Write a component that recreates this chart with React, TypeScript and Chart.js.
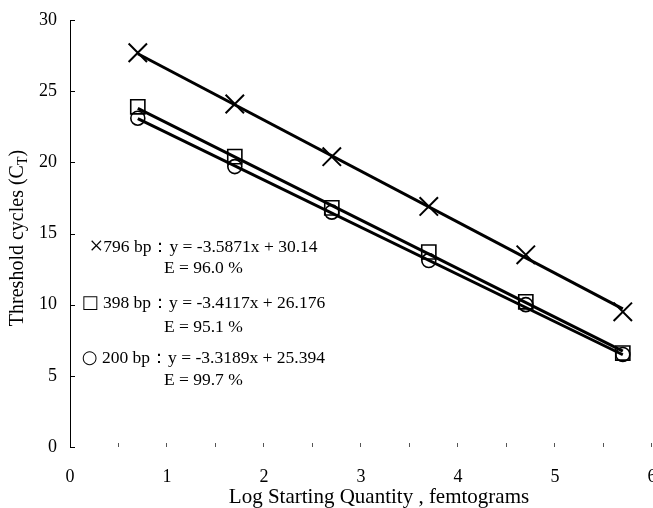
import React, { useEffect, useRef } from "react";
import { Chart, registerables } from "chart.js";

Chart.register(...registerables);

const logQuantity = [0.699, 1.699, 2.699, 3.699, 4.699, 5.699];
const ct796 = [27.7, 24.1, 20.4, 16.9, 13.5, 9.5];
const ct398 = [23.9, 20.4, 16.8, 13.7, 10.2, 6.6];
const ct200 = [23.1, 19.7, 16.5, 13.1, 10.0, 6.5];

const trendX = [0.699, 5.699];
const trend796 = [27.63, 9.7];
const trend398 = [23.79, 6.73];
const trend200 = [23.07, 6.48];

const yTicks = [0, 5, 10, 15, 20, 25, 30];
const xMinorTicks = [0.5, 1, 1.5, 2, 2.5, 3, 3.5, 4, 4.5, 5, 5.5, 6];

const annotations = [
  { symbol: "×", text: "796 bp：y = -3.5871x + 30.14", y: 14.05 },
  { symbol: "", text: "E = 96.0 %", y: 12.58 },
  { symbol: "□", text: " 398 bp：y = -3.4117x + 26.176", y: 10.1 },
  { symbol: "", text: "E = 95.1 %", y: 8.43 },
  { symbol: "○", text: " 200 bp：y = -3.3189x + 25.394", y: 6.25 },
  { symbol: "", text: "E = 99.7 %", y: 4.71 },
];

const SERIF = "'Liberation Serif', 'Times New Roman', serif";

const toPts = (xs: number[], ys: number[]) => xs.map((x, i) => ({ x, y: ys[i] }));

const decorPlugin = {
  id: "decor",
  afterDraw(chart: any) {
    const ctx = chart.ctx;
    const xs = chart.scales.x;
    const ys = chart.scales.y;
    const area = chart.chartArea;
    ctx.save();
    // y tick marks (inward)
    ctx.strokeStyle = "#000";
    ctx.lineWidth = 1;
    yTicks.forEach((v) => {
      const py = Math.round(ys.getPixelForValue(v)) + 0.5;
      ctx.beginPath();
      ctx.moveTo(area.left, py);
      ctx.lineTo(area.left + 5, py);
      ctx.stroke();
    });
    // x tick marks
    ctx.strokeStyle = "#555";
    xMinorTicks.forEach((v) => {
      const px = Math.round(xs.getPixelForValue(v)) - 0.5;
      ctx.beginPath();
      ctx.moveTo(px, area.bottom - 4);
      ctx.lineTo(px, area.bottom);
      ctx.stroke();
    });
    // annotations
    ctx.fillStyle = "#000";
    ctx.textBaseline = "middle";
    const cx = xs.getPixelForValue(1.375);
    annotations.forEach((a) => {
      const py = ys.getPixelForValue(a.y);
      ctx.font = `17.5px ${SERIF}`;
      const tw = ctx.measureText(a.text).width;
      let sw = 0;
      if (a.symbol) {
        ctx.font = a.symbol === "×" ? `25px ${SERIF}` : `18px 'DejaVu Sans'`;
        sw = ctx.measureText(a.symbol).width;
      }
      const start = cx - (tw + sw) / 2;
      ctx.textAlign = "left";
      if (a.symbol) {
        ctx.fillText(a.symbol, start, py);
      }
      ctx.font = `17.5px ${SERIF}`;
      ctx.fillText(a.text, start + sw, py);
    });
    // x title
    ctx.font = `21px ${SERIF}`;
    ctx.textAlign = "center";
    ctx.fillText("Log Starting Quantity , femtograms", 379, 497);
    // y title with subscript
    ctx.translate(18, 238);
    ctx.rotate(-Math.PI / 2);
    ctx.font = `20px ${SERIF}`;
    const p1 = "Threshold cycles (C";
    const p3 = ")";
    const w1 = ctx.measureText(p1).width;
    const w3 = ctx.measureText(p3).width;
    ctx.font = `14px ${SERIF}`;
    const w2 = ctx.measureText("T").width;
    const x0 = -(w1 + w2 + w3) / 2;
    ctx.textAlign = "left";
    ctx.font = `20px ${SERIF}`;
    ctx.fillText(p1, x0, 0);
    ctx.font = `14px ${SERIF}`;
    ctx.fillText("T", x0 + w1, 5);
    ctx.font = `20px ${SERIF}`;
    ctx.fillText(p3, x0 + w1 + w2, 0);
    ctx.restore();
  },
};

export default function App() {
  const ref = useRef<HTMLCanvasElement | null>(null);
  useEffect(() => {
    document.body.style.margin = "0";
    if (!ref.current) return;
    const lineDs = (ys: number[]) => ({
      data: toPts(trendX, ys),
      showLine: true,
      borderColor: "#000",
      borderWidth: 3,
      pointRadius: 0,
      fill: false,
      clip: false,
    });
    const markDs = (ys: number[], style: string, r: number, bw: number) => ({
      data: toPts(logQuantity, ys),
      showLine: false,
      pointStyle: style,
      pointRadius: r,
      pointBorderColor: "#000",
      pointBackgroundColor: "rgba(0,0,0,0)",
      pointBorderWidth: bw,
      borderColor: "#000",
      backgroundColor: "rgba(0,0,0,0)",
      clip: false,
    });
    const chart = new Chart(ref.current, {
      type: "scatter",
      data: {
        datasets: [
          lineDs(trend796),
          lineDs(trend398),
          lineDs(trend200),
          markDs(ct796, "crossRot", 13, 2),
          markDs(ct398, "rect", 10, 1.6),
          markDs(ct200, "circle", 7, 1.6),
        ] as any,
      },
      options: {
        animation: false,
        responsive: false,
        maintainAspectRatio: false,
        layout: { autoPadding: false, padding: { top: 20, right: 1, left: 0, bottom: 0 } },
        plugins: { legend: { display: false }, tooltip: { enabled: false } },
        scales: {
          x: {
            type: "linear",
            min: 0,
            max: 6,
            afterFit: (s: any) => {
              s.height = 61;
              s.paddingLeft = 0;
              s.paddingRight = 0;
            },
            ticks: {
              stepSize: 1,
              color: "#000",
              padding: 19,
              maxRotation: 0,
              font: { family: SERIF, size: 18 },
            },
            grid: { display: false, drawTicks: false },
            border: { display: false },
          },
          y: {
            type: "linear",
            min: 0,
            max: 30,
            afterFit: (s: any) => {
              s.width = 70;
              s.paddingTop = 0;
              s.paddingBottom = 0;
            },
            ticks: {
              stepSize: 5,
              color: "#000",
              padding: 13,
              font: { family: SERIF, size: 18 },
            },
            grid: { display: false, drawTicks: false },
            border: { display: true, color: "#000", width: 1 },
          },
        },
      },
      plugins: [decorPlugin],
    });
    return () => chart.destroy();
  }, []);
  return (
    <div style={{ width: 653, height: 508, background: "#fff" }}>
      <canvas ref={ref} width={653} height={508} />
    </div>
  );
}
